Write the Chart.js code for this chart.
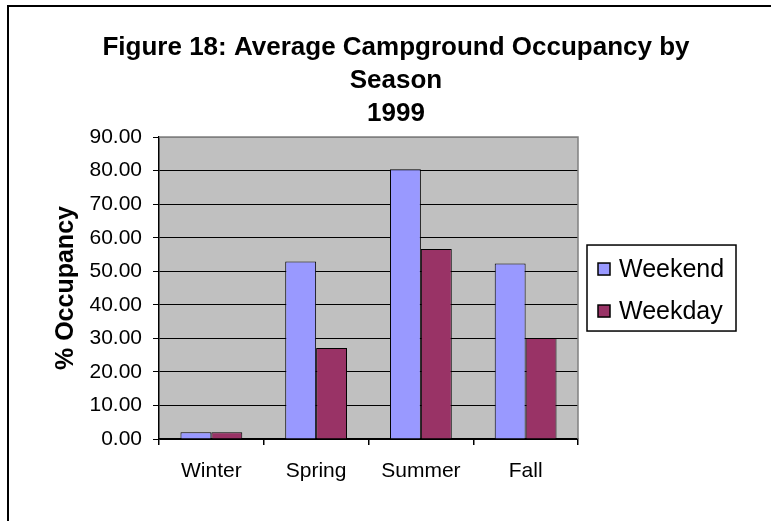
<!DOCTYPE html>
<html>
<head>
<meta charset="utf-8">
<script src="https://cdn.jsdelivr.net/npm/chart.js@4/dist/chart.umd.min.js"></script>
<style>
  body { margin: 0; background: #fff; }
  #wrap { width: 771px; height: 521px; }
</style>
</head>
<body>
<div id="wrap"><canvas id="mycanvas" width="771" height="521"></canvas></div>
<script>
var seasons = ["Winter", "Spring", "Summer", "Fall"];
var weekend = [2.0, 52.9, 80.4, 52.3];
var weekday = [2.0, 27.1, 56.6, 30.1];
var titleLines = ["Figure 18: Average Campground Occupancy by", "Season", "1999"];
var yTitle = "% Occupancy";

var FONT = "'Liberation Sans', Arial, Helvetica, sans-serif";

// grey plot area, grey top/right edges, outer frame and boxed legend
var excelLook = {
  id: "excelLook",
  beforeDraw: function(chart) {
    var c = chart.ctx, a = chart.chartArea;
    c.save();
    c.fillStyle = "#fff";
    c.fillRect(0, 0, chart.width, chart.height);
    c.strokeStyle = "#000";
    c.lineWidth = 2;
    c.strokeRect(8, 6, chart.width + 20, chart.height + 20);
    c.fillStyle = "#C0C0C0";
    c.fillRect(a.left, a.top, a.right - a.left, a.bottom - a.top);
    c.restore();
  },
  afterDraw: function(chart) {
    var c = chart.ctx, a = chart.chartArea;
    c.save();
    c.strokeStyle = "#808080";
    c.lineWidth = 1.5;
    c.beginPath();
    c.moveTo(a.left, a.top);
    c.lineTo(a.right, a.top);
    c.lineTo(a.right, a.bottom);
    c.stroke();

    // legend
    var bx = a.right + 9, bw = 149, bh = 86;
    var by = (a.top + a.bottom) / 2 - bh / 2;
    c.strokeStyle = "#000";
    c.lineWidth = 1.5;
    c.strokeRect(bx, by, bw, bh);
    c.font = "25px " + FONT;
    c.textBaseline = "middle";
    chart.data.datasets.forEach(function(ds, i) {
      var cy = by + 24 + i * 42;
      c.fillStyle = ds.backgroundColor;
      c.fillRect(bx + 11, cy - 6, 12, 12);
      c.lineWidth = 1.5;
      c.strokeRect(bx + 11, cy - 6, 12, 12);
      c.fillStyle = "#000";
      c.fillText(ds.label, bx + 32, cy + 1);
    });
    c.restore();
  }
};

var ctx = document.getElementById("mycanvas");
var chart = new Chart(ctx, {
  type: "bar",
  data: {
    labels: seasons,
    datasets: [
      {
        label: "Weekend",
        data: weekend,
        backgroundColor: "#9999FF",
        borderColor: "#000",
        borderWidth: 1,
        categoryPercentage: 0.59,
        barPercentage: 1.0
      },
      {
        label: "Weekday",
        data: weekday,
        backgroundColor: "#993366",
        borderColor: "#000",
        borderWidth: 1,
        categoryPercentage: 0.59,
        barPercentage: 1.0
      }
    ]
  },
  options: {
    responsive: false,
    animation: false,
    layout: { padding: { left: 21, right: 0, top: 0, bottom: 38 } },
    plugins: {
      legend: { display: false },
      tooltip: { enabled: false },
      title: {
        display: true,
        text: titleLines,
        color: "#000",
        font: { family: FONT, size: 26, weight: "bold", lineHeight: 1.27 },
        padding: { top: 31, bottom: 7 }
      }
    },
    scales: {
      x: {
        afterFit: function(s) { s.height = 44; },
        grid: {
          offset: true,
          drawOnChartArea: false,
          drawTicks: true,
          tickLength: 6,
          tickColor: "#000",
          lineWidth: 1.5
        },
        border: { color: "#000", width: 1.5 },
        ticks: {
          color: "#000",
          padding: 14,
          font: { family: FONT, size: 21 }
        }
      },
      y: {
        min: 0,
        max: 90,
        afterFit: function(s) { s.width = 138; },
        grid: {
          color: function(c) { return c.tick && c.tick.value === 90 ? "#808080" : "#000"; },
          lineWidth: 1,
          tickLength: 6,
          tickColor: "#000"
        },
        border: { color: "#000", width: 1.5 },
        ticks: {
          stepSize: 10,
          color: "#000",
          padding: 11,
          font: { family: FONT, size: 21 },
          callback: function(v) { return v.toFixed(2); }
        },
        title: {
          display: true,
          text: yTitle,
          color: "#000",
          font: { family: FONT, size: 25, weight: "bold" },
          padding: { top: 30, bottom: 0 }
        }
      },
      // empty right-hand axis that only reserves room for the legend box
      side: {
        position: "right",
        afterFit: function(s) { s.width = 193; },
        grid: { display: false, drawTicks: false },
        border: { display: false },
        ticks: { display: false }
      }
    }
  },
  plugins: [excelLook]
});
</script>
</body>
</html>
